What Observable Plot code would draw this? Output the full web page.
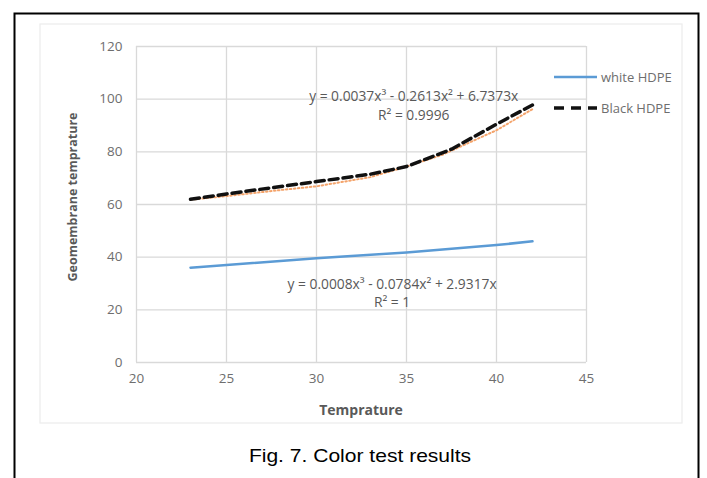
<!DOCTYPE html>
<html><head><meta charset="utf-8">
<script src="https://cdn.jsdelivr.net/npm/d3@7"></script>
<script src="https://cdn.jsdelivr.net/npm/@observablehq/plot@0.6"></script>
<style>body{margin:0;background:#fff} svg{display:block}</style>
</head><body><div id="chart"></div>
<script>
// Series
const whiteX = [23, 30, 35, 40, 42];
const whiteY = [36, 39.6, 41.8, 44.6, 46];
const blackX = [23, 25, 30, 33, 35, 37.5, 40, 42];
const blackY = [62, 64, 68.7, 71.5, 74.4, 81, 90.5, 97.8];
const trendX = [23, 25, 28, 30, 33, 35, 37, 40, 42];
const trendY = [61.8, 63.2, 65.5, 66.9, 70.4, 74.4, 78.9, 88.2, 96.2];
const xTicks = [20, 25, 30, 35, 40, 45];
const yTicks = [0, 20, 40, 60, 80, 100, 120];
const seriesNames = ["white HDPE", "Black HDPE"];
const eqBlack = ["y = 0.0037x³ - 0.2613x² + 6.7373x", "R² = 0.9996"];
const eqWhite = ["y = 0.0008x³ - 0.0784x² + 2.9317x", "R² = 1"];
const xTitle = "Temprature";
const yTitle = "Geomembrane temprature";
const caption = "Fig. 7. Color test results";

const white = whiteX.map((x, i) => ({x, y: whiteY[i]}));
const black = blackX.map((x, i) => ({x, y: blackY[i]}));
const trend = trendX.map((x, i) => ({x, y: trendY[i]}));

const gray = "#595959";
const lightGray = "#6e6e6e";
const font = "'Open Sans', 'DejaVu Sans', sans-serif";

const plot = Plot.plot({
  width: 707, height: 478,
  marginLeft: 136, marginRight: 121, marginTop: 46, marginBottom: 116,
  style: {fontFamily: font, fontSize: "13px", color: lightGray, background: "transparent"},
  x: {domain: [20, 45]},
  y: {domain: [0, 120]},
  marks: [
    Plot.gridX(xTicks, {stroke: "#d9d9d9", strokeOpacity: 1, strokeWidth: 1.3}),
    Plot.gridY(yTicks, {stroke: "#d9d9d9", strokeOpacity: 1, strokeWidth: 1.3}),
    Plot.axisX({ticks: xTicks, tickSize: 0, tickPadding: 11, label: null, fontSize: 13.5}),
    Plot.axisY({ticks: yTicks, tickSize: 0, tickPadding: 14, label: null, fontSize: 13.5}),
    Plot.line(white, {x: "x", y: "y", stroke: "#5b9bd5", strokeWidth: 2.5}),
    Plot.line(trend, {x: "x", y: "y", stroke: "#f4a46c", strokeWidth: 2, strokeDasharray: "1.5,2.5"}),
    Plot.line(black, {x: "x", y: "y", stroke: "#111", strokeWidth: 3.5, strokeDasharray: "9,5"}),
    Plot.text([eqBlack[0]], {x: 35.4, y: 101, text: d => d, fill: gray, fontSize: 13.8}),
    Plot.text([eqBlack[1]], {x: 35.4, y: 93.6, text: d => d, fill: gray, fontSize: 13.8}),
    Plot.text([eqWhite[0]], {x: 34.2, y: 29.7, text: d => d, fill: gray, fontSize: 13.8}),
    Plot.text([eqWhite[1]], {x: 34.2, y: 22.6, text: d => d, fill: gray, fontSize: 13.8})
  ]
});

const svg = d3.select(plot);
// outer black frame and chart area border
svg.insert("rect", ":first-child").attr("x", 40).attr("y", 24).attr("width", 642).attr("height", 399)
  .attr("fill", "none").attr("stroke", "#ececec").attr("stroke-width", 1.2);
svg.append("rect").attr("x", 14.5).attr("y", 13.5).attr("width", 684).attr("height", 500)
  .attr("fill", "none").attr("stroke", "#000").attr("stroke-width", 2);

// axis titles
svg.append("text").attr("x", 361).attr("y", 409).attr("text-anchor", "middle").attr("dominant-baseline", "central")
  .attr("font-weight", "bold").attr("font-size", 14).attr("fill", gray).text(xTitle);
svg.append("text").attr("transform", "translate(72,197) rotate(-90)").attr("text-anchor", "middle").attr("dominant-baseline", "central")
  .attr("font-weight", "bold").attr("font-size", 12.5).attr("fill", gray).text(yTitle);

// legend
const lg = svg.append("g").attr("text-anchor", "start");
lg.append("line").attr("x1", 554).attr("x2", 597).attr("y1", 77).attr("y2", 77).attr("stroke", "#5b9bd5").attr("stroke-width", 2.5);
lg.append("line").attr("x1", 554).attr("x2", 597).attr("y1", 108).attr("y2", 108).attr("stroke", "#111").attr("stroke-width", 3.5).attr("stroke-dasharray", "10,7");
lg.append("text").attr("x", 601).attr("y", 77).attr("text-anchor", "start").attr("dominant-baseline", "central").attr("fill", lightGray).attr("font-size", 13).text(seriesNames[0]);
lg.append("text").attr("x", 601).attr("y", 108).attr("text-anchor", "start").attr("dominant-baseline", "central").attr("fill", lightGray).attr("font-size", 13).text(seriesNames[1]);

// caption
svg.append("text").attr("transform", "translate(360,456) scale(1.17,1)").attr("text-anchor", "middle").attr("dominant-baseline", "central")
  .attr("font-family", "'Liberation Sans', Arial, sans-serif").attr("font-size", 18).attr("fill", "#000").text(caption);

document.getElementById("chart").appendChild(plot);
</script>
</body></html>
